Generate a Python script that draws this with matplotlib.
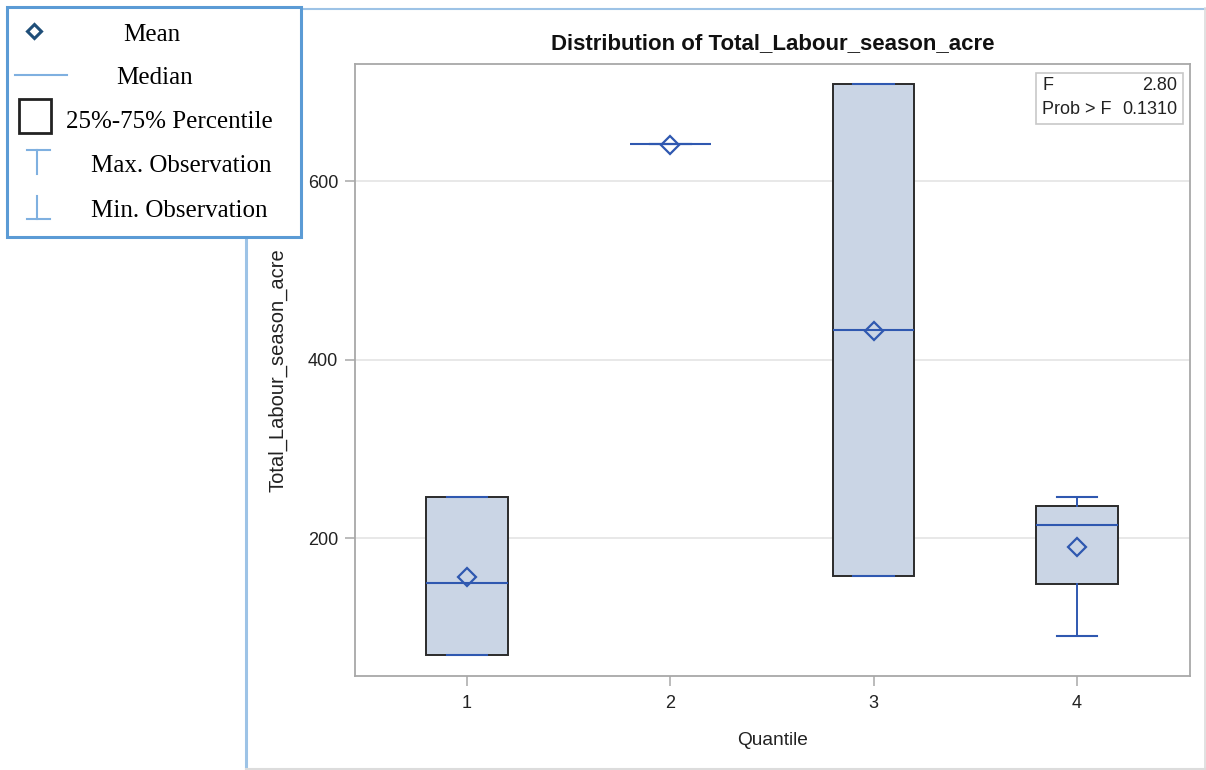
import matplotlib
matplotlib.use("Agg")
import matplotlib.pyplot as plt
from matplotlib.patches import Rectangle

# Summary statistics per quantile group
quantiles = ["1", "2", "3", "4"]
q_min = [68.6, 641.0, 157.4, 89.9]
q_p25 = [68.6, 641.0, 157.4, 148.1]
q_median = [149.9, 641.0, 433.0, 214.2]
q_p75 = [246.3, 641.0, 708.7, 235.9]
q_max = [246.3, 641.0, 708.7, 246.3]
q_mean = [156.0, 640.5, 432.5, 190.3]

y_ticks = [200, 400, 600]
f_value = "2.80"
prob_f = "0.1310"

W, H = 1206, 770
BOX_FILL = "#CAD5E5"
BOX_EDGE = "#2B2B2B"
BLUE = "#2F58B0"
GRID = "#E4E4E4"
SPINE = "#A8A8A8"
SANS = ["Liberation Sans", "DejaVu Sans"]
SERIF = ["Liberation Serif", "DejaVu Serif"]

fig = plt.figure(figsize=(W / 100, H / 100), dpi=100)
fig.patch.set_facecolor("white")

# overlay in pixel units for the frame and the key
over = fig.add_axes([0, 0, 1, 1], zorder=0)
over.set_xlim(0, W)
over.set_ylim(H, 0)
over.axis("off")
over.plot([246, 246], [8, 770], color="#9DC3E6", lw=2.2, solid_capstyle="butt")
over.plot([246, 1206], [8.5, 8.5], color="#9DC3E6", lw=1.5)
over.plot([1205, 1205], [8, 770], color="#DCDCDC", lw=1.2)
over.plot([246, 1206], [769, 769], color="#DCDCDC", lw=1.5)

ax = fig.add_axes([355 / W, 1 - 676 / H, 835 / W, 612 / H], zorder=1)
positions = list(range(1, len(quantiles) + 1))
stats = []
for i, lab in enumerate(quantiles):
    stats.append(dict(label=lab, med=q_median[i], q1=q_p25[i], q3=q_p75[i],
                      whislo=q_min[i], whishi=q_max[i], mean=q_mean[i], fliers=[]))

ax.bxp(stats, positions=positions, widths=0.4, patch_artist=True,
       showmeans=True, showfliers=False,
       boxprops=dict(facecolor=BOX_FILL, edgecolor=BOX_EDGE, linewidth=1.4, zorder=2),
       medianprops=dict(color=BLUE, linewidth=1.5, zorder=3),
       whiskerprops=dict(color=BLUE, linewidth=1.4, zorder=3),
       capprops=dict(color=BLUE, linewidth=1.5, zorder=4),
       meanprops=dict(marker="D", markerfacecolor="none", markeredgecolor=BLUE,
                      markeredgewidth=1.6, markersize=9.5, zorder=5))

ax.set_xlim(0.449, 4.556)
ax.set_ylim(45.4, 731.1)
ax.set_yticks(y_ticks)
ax.set_xticks(positions)
ax.set_xticklabels(quantiles)
ax.yaxis.grid(True, color=GRID, linewidth=1.2, zorder=0)
ax.set_axisbelow(True)
for sp in ax.spines.values():
    sp.set_color(SPINE)
    sp.set_linewidth(1.3)
ax.tick_params(axis="both", length=7, width=1.1, color=SPINE, pad=5,
               labelsize=13, labelcolor="#222222")
ax.tick_params(axis="x", pad=7)
for t in ax.get_xticklabels() + ax.get_yticklabels():
    t.set_family(SANS)
ax.set_xlabel("Quantile", family=SANS, fontsize=13.8, color="#222222", labelpad=14)
ax.set_ylabel("Total_Labour_season_acre", family=SANS, fontsize=14.5,
              color="#222222", labelpad=15)
ax.set_title("Distribution of Total_Labour_season_acre", family=SANS,
             fontsize=16, fontweight="bold", color="#111111", pad=11)

# F statistic inset
inset = Rectangle((1036, 73), 147, 51, transform=over.transData, fill=True,
                  facecolor="white", edgecolor="#C8C8C8", lw=1.2, zorder=6)
fig.add_artist(inset)
for yy, left, right in [(86, "F", f_value), (109, "Prob > F", prob_f)]:
    fig.text(1042 / W, 1 - yy / H, left, family=SANS, fontsize=13, va="center",
             ha="left", color="#222222", zorder=7)
    fig.text(1177 / W, 1 - yy / H, right, family=SANS, fontsize=13, va="center",
             ha="right", color="#222222", zorder=7)

# key panel on top
key = fig.add_axes([0, 0, 1, 1], zorder=10)
key.set_xlim(0, W)
key.set_ylim(H, 0)
key.axis("off")
key.patch.set_alpha(0)
key.add_patch(Rectangle((7, 7), 294, 230, facecolor="white", edgecolor="#5B9BD5", lw=2.2))
KEYBLUE = "#7FB0E0"
key.plot([34], [31], marker="D", markersize=7, markerfacecolor="none",
         markeredgecolor="#1F4E79", markeredgewidth=2.2)
key.plot([15, 67], [75, 75], color=KEYBLUE, lw=1.5)
key.add_patch(Rectangle((19, 99), 32, 34, facecolor="white", edgecolor="#222222", lw=2))
key.plot([37, 37], [150, 174], color=KEYBLUE, lw=1.5)
key.plot([27, 50], [149.5, 149.5], color=KEYBLUE, lw=1.5)
key.plot([37, 37], [196, 219], color=KEYBLUE, lw=1.5)
key.plot([27, 50], [218.5, 218.5], color=KEYBLUE, lw=1.5)
kfs = 18
key.text(152, 35, "Mean", family=SERIF, fontsize=kfs, ha="center", va="center")
key.text(155, 78, "Median", family=SERIF, fontsize=kfs, ha="center", va="center")
key.text(66, 122, "25%-75% Percentile", family=SERIF, fontsize=kfs, ha="left", va="center")
key.text(91, 166, "Max. Observation", family=SERIF, fontsize=kfs, ha="left", va="center")
key.text(91, 211, "Min. Observation", family=SERIF, fontsize=kfs, ha="left", va="center")

fig.savefig("out.png", dpi=100)
